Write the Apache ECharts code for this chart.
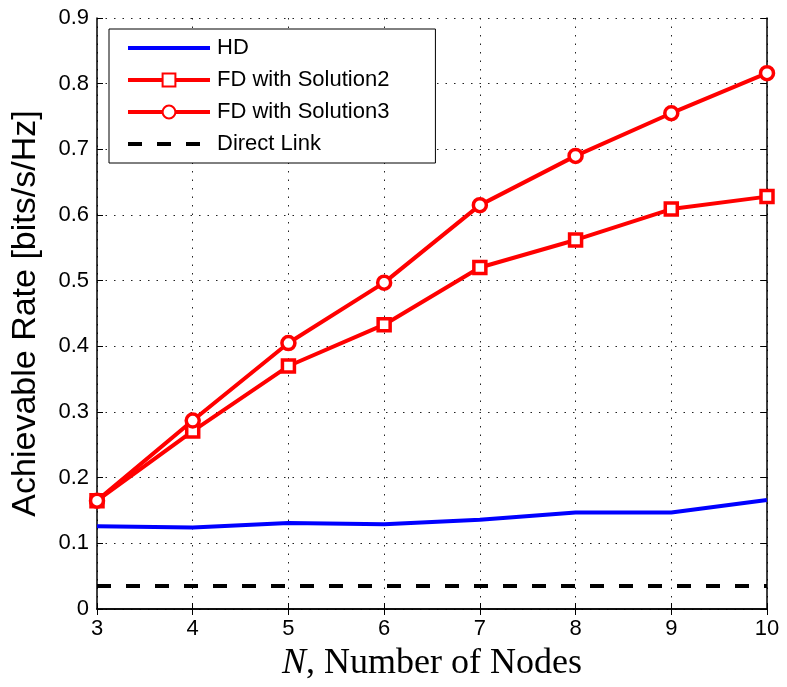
<!DOCTYPE html>
<html>
<head>
<meta charset="utf-8">
<script src="https://cdn.jsdelivr.net/npm/echarts@6/dist/echarts.min.js"></script>
<style>
  html, body { margin: 0; padding: 0; background: #fff; }
  #chart { width: 787px; height: 687px; }
</style>
</head>
<body>
<div id="chart"></div>
<script>
// Number of nodes N
const nodes = [3, 4, 5, 6, 7, 8, 9, 10];
// Achievable rate per scheme [bits/s/Hz]
const hdRate = [0.126, 0.124, 0.131, 0.129, 0.136, 0.147, 0.147, 0.166];
const fdSolution2 = [0.165, 0.271, 0.370, 0.433, 0.520, 0.562, 0.609, 0.628];
const fdSolution3 = [0.165, 0.287, 0.405, 0.497, 0.615, 0.690, 0.755, 0.816];
const directLink = [0.035, 0.035, 0.035, 0.035, 0.035, 0.035, 0.035, 0.035];

const pairs = ys => nodes.map((n, i) => [n, ys[i]]);

const sans = 'Liberation Sans, Arial, sans-serif';
const serif = 'Liberation Serif, Times New Roman, serif';
const tickFont = { fontFamily: sans, fontSize: 22, color: '#000' };
const gridLine = { show: true, lineStyle: { color: '#222', type: [1.5, 7], width: 1 } };
const boxTick = { show: true, inside: true, length: 6, lineStyle: { color: '#000' } };
const boxLine = { show: true, lineStyle: { color: '#000', width: 1.5 } };

const chart = echarts.init(document.getElementById('chart'));
chart.setOption({
  backgroundColor: '#fff',
  animation: false,
  grid: { left: 97, right: 20, top: 18, bottom: 73 },
  legend: {
    orient: 'vertical',
    left: 109, top: 29,
    padding: [8, 46, 8, 17],
    backgroundColor: '#fff',
    borderColor: '#000',
    borderWidth: 1,
    borderRadius: 0,
    itemWidth: 82,
    itemHeight: 16,
    itemGap: 10,
    textStyle: { fontFamily: sans, fontSize: 22, color: '#000', padding: [0, 0, 0, 2] },
    data: [
      { name: 'HD', itemStyle: { opacity: 0 }, lineStyle: { width: 4, color: '#0000ff' } },
      { name: 'FD with Solution2', lineStyle: { width: 4, color: '#ff0000' } },
      { name: 'FD with Solution3', lineStyle: { width: 4, color: '#ff0000' } },
      { name: 'Direct Link', itemStyle: { opacity: 0 }, lineStyle: { width: 4, color: '#000', type: [14, 15] } }
    ]
  },
  xAxis: [{
    type: 'value', min: 3, max: 10, interval: 1,
    name: '{i|N}, Number of Nodes',
    nameLocation: 'middle', nameGap: 37,
    nameTextStyle: {
      fontFamily: serif, fontSize: 36, color: '#000',
      rich: { i: { fontFamily: serif, fontStyle: 'italic', fontSize: 36, color: '#000' } }
    },
    axisLine: boxLine,
    axisTick: boxTick,
    axisLabel: Object.assign({ margin: 9 }, tickFont),
    splitLine: gridLine
  }, {
    type: 'value', min: 3, max: 10, interval: 1, position: 'top',
    axisLine: boxLine,
    axisTick: boxTick,
    axisLabel: { show: false },
    splitLine: { show: false }
  }],
  yAxis: [{
    type: 'value', min: 0, max: 0.9, interval: 0.1,
    name: 'Achievable Rate [bits/s/Hz]',
    nameLocation: 'middle', nameGap: 54,
    nameTextStyle: { fontFamily: sans, fontSize: 34, color: '#000' },
    axisLine: boxLine,
    axisTick: boxTick,
    axisLabel: Object.assign({ margin: 8, formatter: v => (Math.round(v * 10) / 10).toString() }, tickFont),
    splitLine: gridLine
  }, {
    type: 'value', min: 0, max: 0.9, interval: 0.1, position: 'right',
    axisLine: boxLine,
    axisTick: boxTick,
    axisLabel: { show: false },
    splitLine: { show: false }
  }],
  series: [{
    name: 'HD', type: 'line', data: pairs(hdRate),
    showSymbol: false, symbol: 'none',
    lineStyle: { color: '#0000ff', width: 4 },
    itemStyle: { color: '#0000ff' }
  }, {
    name: 'FD with Solution2', type: 'line', data: pairs(fdSolution2),
    symbol: 'rect', symbolSize: 12,
    lineStyle: { color: '#ff0000', width: 4 },
    itemStyle: { color: '#fff', borderColor: '#ff0000', borderWidth: 3.5 }
  }, {
    name: 'FD with Solution3', type: 'line', data: pairs(fdSolution3),
    symbol: 'circle', symbolSize: 13,
    lineStyle: { color: '#ff0000', width: 4 },
    itemStyle: { color: '#fff', borderColor: '#ff0000', borderWidth: 3.5 }
  }, {
    name: 'Direct Link', type: 'line', data: pairs(directLink),
    showSymbol: false, symbol: 'none',
    lineStyle: { color: '#000', width: 4, type: [14, 15] },
    itemStyle: { color: '#000' }
  }]
});
</script>
</body>
</html>
